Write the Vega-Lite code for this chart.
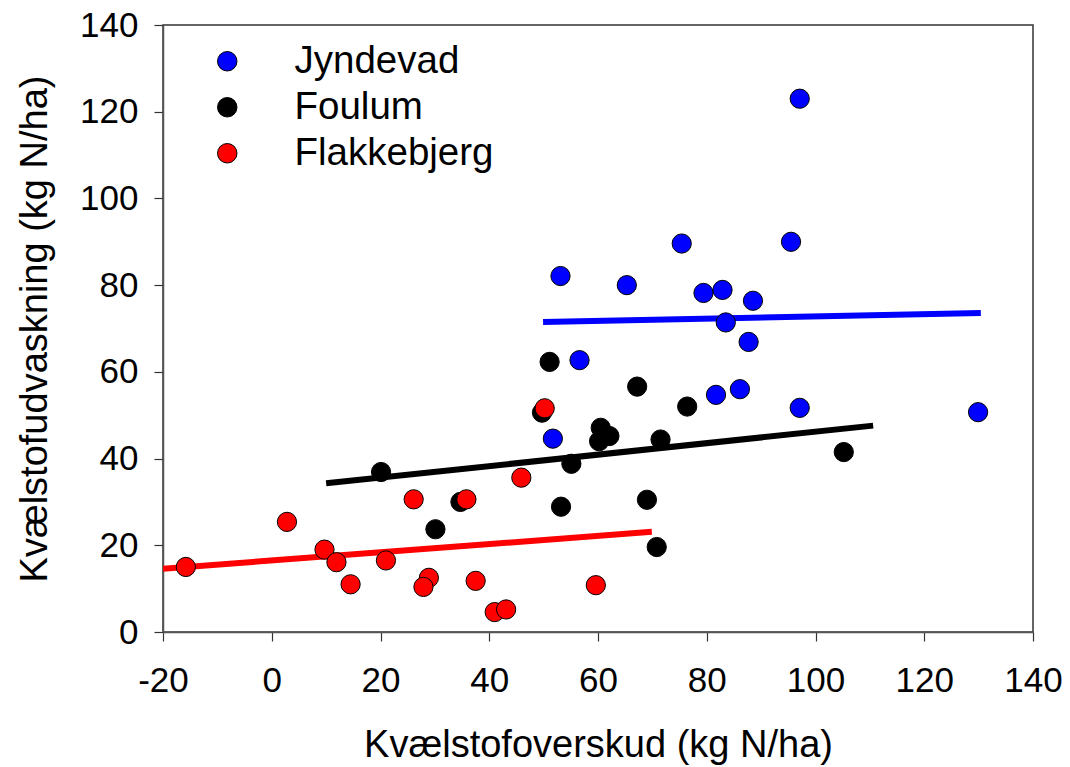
{
  "$schema": "https://vega.github.io/schema/vega-lite/v6.json",
  "width": 870,
  "height": 607,
  "autosize": "none",
  "padding": {"left": 163, "top": 25, "right": 37, "bottom": 135},
  "background": "white",
  "config": {
    "font": "Liberation Sans",
    "view": {"stroke": "#333333", "strokeWidth": 1.5},
    "axis": {
      "grid": false,
      "domainColor": "#555555",
      "domainWidth": 1.5,
      "tickColor": "#333333",
      "tickWidth": 1.2,
      "tickSize": 9,
      "labelFont": "Liberation Sans",
      "labelFontSize": 35,
      "labelColor": "black",
      "labelFlush": false,
      "titleFont": "Liberation Sans",
      "titleFontSize": 38,
      "titleFontWeight": "normal",
      "titleColor": "black"
    }
  },
  "datasets": {
    "pts": [
      {"site": "Jyndevad", "x": 97.1, "y": 123.0},
      {"site": "Jyndevad", "x": 53.1, "y": 82.1},
      {"site": "Jyndevad", "x": 65.3, "y": 80.0},
      {"site": "Jyndevad", "x": 75.4, "y": 89.6},
      {"site": "Jyndevad", "x": 95.5, "y": 90.0},
      {"site": "Jyndevad", "x": 79.4, "y": 78.2},
      {"site": "Jyndevad", "x": 82.9, "y": 78.9},
      {"site": "Jyndevad", "x": 88.5, "y": 76.4},
      {"site": "Jyndevad", "x": 83.5, "y": 71.4},
      {"site": "Jyndevad", "x": 87.7, "y": 66.9},
      {"site": "Jyndevad", "x": 56.6, "y": 62.7},
      {"site": "Jyndevad", "x": 86.1, "y": 56.0},
      {"site": "Jyndevad", "x": 81.7, "y": 54.7},
      {"site": "Jyndevad", "x": 97.1, "y": 51.7},
      {"site": "Jyndevad", "x": 129.9, "y": 50.7},
      {"site": "Jyndevad", "x": 51.7, "y": 44.6},
      {"site": "Foulum", "x": 51.1, "y": 62.3},
      {"site": "Foulum", "x": 67.2, "y": 56.6},
      {"site": "Foulum", "x": 49.7, "y": 50.6},
      {"site": "Foulum", "x": 76.4, "y": 52.0},
      {"site": "Foulum", "x": 60.5, "y": 47.1},
      {"site": "Foulum", "x": 62.1, "y": 45.2},
      {"site": "Foulum", "x": 60.2, "y": 44.0},
      {"site": "Foulum", "x": 71.5, "y": 44.4},
      {"site": "Foulum", "x": 55.1, "y": 38.8},
      {"site": "Foulum", "x": 20.1, "y": 36.9},
      {"site": "Foulum", "x": 105.2, "y": 41.5},
      {"site": "Foulum", "x": 34.7, "y": 30.0},
      {"site": "Foulum", "x": 69.0, "y": 30.5},
      {"site": "Foulum", "x": 30.1, "y": 23.7},
      {"site": "Foulum", "x": 53.2, "y": 28.9},
      {"site": "Foulum", "x": 70.8, "y": 19.6},
      {"site": "Flakkebjerg", "x": 50.2, "y": 51.6},
      {"site": "Flakkebjerg", "x": 45.9, "y": 35.6},
      {"site": "Flakkebjerg", "x": 26.1, "y": 30.6},
      {"site": "Flakkebjerg", "x": 35.8, "y": 30.6},
      {"site": "Flakkebjerg", "x": 2.8, "y": 25.4},
      {"site": "Flakkebjerg", "x": 9.7, "y": 19.0},
      {"site": "Flakkebjerg", "x": 11.9, "y": 16.1},
      {"site": "Flakkebjerg", "x": 21.0, "y": 16.5},
      {"site": "Flakkebjerg", "x": -15.8, "y": 15.0},
      {"site": "Flakkebjerg", "x": 14.5, "y": 11.0},
      {"site": "Flakkebjerg", "x": 28.9, "y": 12.5},
      {"site": "Flakkebjerg", "x": 27.9, "y": 10.4},
      {"site": "Flakkebjerg", "x": 37.5, "y": 11.8},
      {"site": "Flakkebjerg", "x": 59.6, "y": 10.8},
      {"site": "Flakkebjerg", "x": 41.0, "y": 4.6},
      {"site": "Flakkebjerg", "x": 43.1, "y": 5.2}
    ],
    "fits": [
      {"site": "Jyndevad", "x": 49.9, "y": 71.5},
      {"site": "Jyndevad", "x": 130.4, "y": 73.6},
      {"site": "Foulum", "x": 10.0, "y": 34.3},
      {"site": "Foulum", "x": 110.6, "y": 47.6},
      {"site": "Flakkebjerg", "x": -20.0, "y": 14.6},
      {"site": "Flakkebjerg", "x": 69.9, "y": 23.1}
    ]
  },
  "resolve": {"scale": {"color": "independent"}},
  "layer": [
    {
      "data": {"name": "fits"},
      "mark": {"type": "line", "strokeWidth": 6, "clip": true},
      "encoding": {
        "x": {"field": "x", "type": "quantitative", "scale": {"domain": [-20, 140], "nice": false, "zero": false}},
        "y": {"field": "y", "type": "quantitative", "scale": {"domain": [0, 140], "nice": false}},
        "color": {
          "field": "site", "type": "nominal", "legend": null,
          "scale": {"domain": ["Jyndevad", "Foulum", "Flakkebjerg"], "range": ["#0000ff", "#000000", "#ff0000"]}
        }
      }
    },
    {
      "data": {"name": "pts"},
      "mark": {"type": "point", "shape": "circle", "filled": true, "size": 370, "stroke": "black", "strokeWidth": 1, "opacity": 1},
      "encoding": {
        "x": {
          "field": "x", "type": "quantitative",
          "scale": {"domain": [-20, 140], "nice": false, "zero": false},
          "axis": {"values": [-20, 0, 20, 40, 60, 80, 100, 120, 140], "labelExpr": "'' + datum.value", "title": "Kvælstofoverskud (kg N/ha)", "labelPadding": 22, "titlePadding": 28}
        },
        "y": {
          "field": "y", "type": "quantitative",
          "scale": {"domain": [0, 140], "nice": false},
          "axis": {"values": [0, 20, 40, 60, 80, 100, 120, 140], "title": "Kvælstofudvaskning (kg N/ha)", "labelPadding": 16, "titlePadding": 25}
        },
        "fill": {
          "field": "site", "type": "nominal",
          "scale": {"domain": ["Jyndevad", "Foulum", "Flakkebjerg"], "range": ["#0000ff", "#000000", "#ff0000"]},
          "legend": {
            "title": null,
            "orient": "none",
            "legendX": 45,
            "legendY": 17,
            "labelFontSize": 38.5,
            "labelFont": "Liberation Sans",
            "labelColor": "black",
            "labelLimit": 500,
            "labelOffset": 48,
            "symbolSize": 380,
            "symbolType": "circle",
            "symbolStrokeColor": "black",
            "symbolStrokeWidth": 1,
            "rowPadding": 7
          }
        }
      }
    }
  ]
}
